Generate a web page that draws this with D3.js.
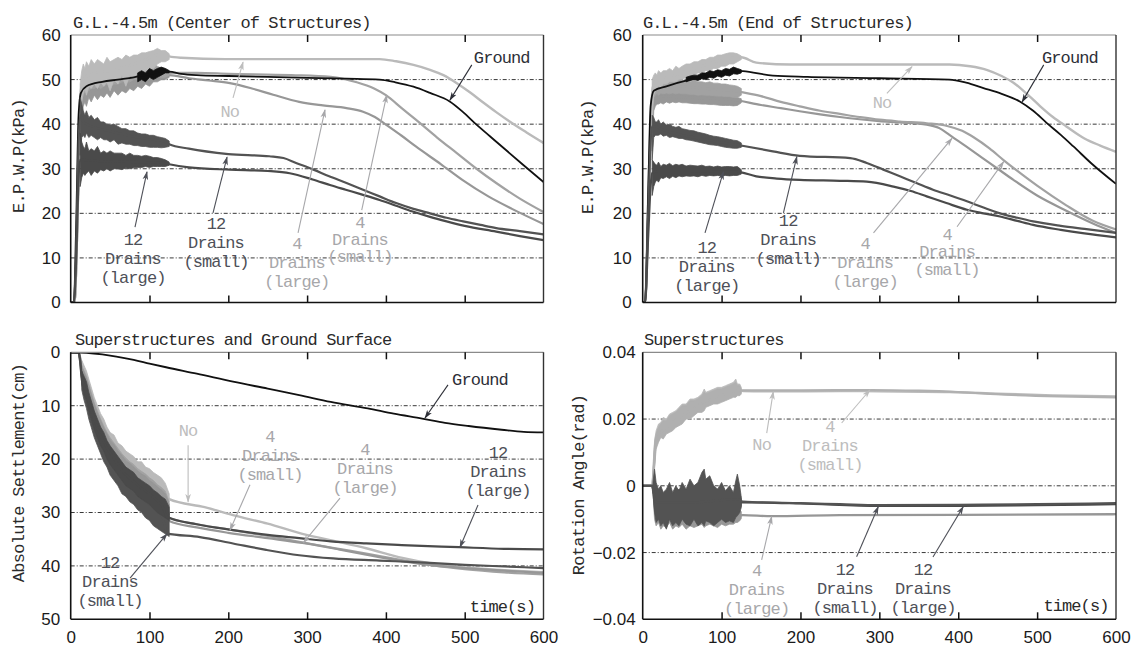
<!DOCTYPE html>
<html><head><meta charset="utf-8">
<script src="https://cdn.jsdelivr.net/npm/d3@7"></script>
<style>body{margin:0;background:#fff}svg{display:block}</style>
</head><body>
<svg id="chart" width="1137" height="651"></svg>
<script>
// ---------------- DATA ----------------
const TIME_TICKS = [0,100,200,300,400,500,600];
const EPWP_TICKS = [0,10,20,30,40,50,60];
const SETTLE_TICKS = [0,10,20,30,40,50];
const ROT_TICKS = [-0.04,-0.02,0,0.02,0.04];
const ROT_LABELS = ["\u22120.04","\u22120.02","0","0.02","0.04"];

// band (noisy shaking phase) time grids
const BAND_T_AB = [12,14,16,18,20,23,26,30,34,38,42,46,50,55,60,65,70,75,80,85,90,95,100,105,110,115,120,125];
const BAND_T_C  = [14,17,20,23,26,30,34,38,42,46,50,55,60,65,70,75,80,85,90,95,100,105,110,115,120,125];
const BAND_T_D  = [13,15,17,20,23,26,30,34,38,42,46,50,55,60,65,70,75,78,80,85,90,95,100,105,110,115,118,120,123,125];
const GROUND_BAND_T_A = [85,90,95,100,105,110,115,120,125];
const GROUND_BAND_T_B = [55,60,65,70,75,80,85,90,95,100,105,110,115,120,125];

// ---- Panel A: G.L.-4.5m (Center of Structures), EPWP kPa ----
const groundA = [[0,0],[4,0],[7,18],[10,42],[13,47],[20,48.5],[40,49.5],[60,50],[80,50.5],[100,51.2],[115,51.8],[125,51.8],[140,51.3],[160,51],[200,50.8],[250,50.6],[300,50.4],[350,50.2],[392,50],[412,49.4],[435,48.4],[456,47],[481,45.1],[498,42.7],[515,39.9],[532,37.3],[549,34.7],[574,30.9],[600,27]];
const noA = [[0,0],[5,0],[8,15],[11,38],[12,46],[16,50],[30,51.5],[50,52],[70,53],[90,54],[110,55.5],[120,55.5],[125,55.2],[140,54.9],[196,54.6],[300,54.6],[392,54.6],[413,54.1],[435,53.3],[456,52.2],[473,51],[490,49.2],[507,47.1],[524,44.8],[540,42.7],[557,40.6],[578,38.2],[600,35.8]];
const small4A = [[0,0],[5,0],[8,14],[11,36],[12,44],[16,48.5],[30,50],[60,50.5],[90,51],[120,51.3],[125,51.5],[160,51.5],[200,51.3],[280,51],[330,50.6],[363,49.4],[385,48],[400,46.5],[420,43.6],[438,41],[465,37],[490,33.5],[515,30],[540,26.8],[570,23.3],[600,20.3]];
const large4A = [[0,0],[5,0],[8,14],[11,35],[12,42],[16,46.5],[30,47.5],[60,48.5],[90,49.5],[120,50.5],[125,51],[150,50.3],[175,49.8],[202,49.2],[230,48],[257,46.6],[290,45],[320,44.2],[350,43.6],[371,42.8],[386,41.6],[400,39.9],[420,37.4],[438,35],[470,31],[497,27.5],[530,23.8],[560,21],[600,17.6]];
const small12A = [[0,0],[4,0],[7,12],[10,36],[12,42],[16,40.5],[20,40],[30,39.3],[40,38.8],[60,38],[80,37.2],[100,36.6],[120,36],[125,35.5],[150,34.5],[200,33.3],[252,32.8],[270,32.4],[286,31.3],[308,29.8],[328,28.3],[350,26.8],[371,25.3],[392,23.8],[413,22.3],[435,21],[456,20],[477,19],[498,18.2],[520,17.4],[540,16.7],[570,16],[600,15.3]];
const large12A = [[0,0],[4,0],[7,10],[10,28],[12,32],[16,32],[30,31.8],[60,31.6],[90,31.5],[120,31.2],[125,31],[150,30.3],[202,29.8],[250,29.5],[278,29],[307,27.6],[330,26.3],[349,25.3],[370,24.2],[392,23],[413,21.7],[434,20.4],[456,19.2],[477,18.2],[500,17.2],[540,15.9],[570,14.9],[600,14]];
const groundA_hi = [51.5,52,51.5,52.5,52,52.5,52.8,52.5,52];
const groundA_lo = [49.5,50,49.5,50.5,50,50.5,51,51.5,51.5];
const noA_hi = [49,52,53.5,52.5,54,53,54.5,53.5,54.5,54,53.5,55,54,54.5,55,54.5,55.5,55,55.5,55.5,56,56,56.3,56.5,57,56.5,56.5,55.8];
const noA_lo = [40,45,47,48,46.5,48.5,48,49,48,49.5,48.5,49.5,47.5,50,49,51,48.5,51,50.5,51.5,51,52,52.5,52.5,53.5,54,54,54.5];
const small4A_hi = [46,50,52,51,52.5,51.5,52.5,52,53,52,52.5,53,52,53,52.5,53,53.5,52.5,53,53.5,53,53.5,53,53.5,53,52.5,52.5,52];
const small4A_lo = [40,45,47,47,47.5,47.5,48,48,48.5,48,48.5,49,48.5,49,49,49.5,49.5,49.5,50,50,50,50.5,50,50.5,50.5,50.5,50.5,51];
const large4A_hi = [44,48,49,49,50,49.5,50,50,50.5,50,50,50.5,50,50.5,50.5,51,51,50.5,51,51,51,51.5,51,51.5,51.5,51.5,51.5,51.5];
const large4A_lo = [36,42,44,45,44,46,45,46.5,45.5,46.5,46,47,46,47.5,46.5,47.5,47,48,47.5,48.5,48,49,48.5,49.5,49.5,50,50,50.5];
const small12A_hi = [46,44.5,43,42,43,41.5,42,41,41.5,40.5,40.5,40,39.8,40,39.5,39,39,38.5,38.5,38,37.8,37.8,37.5,37.5,37.2,37,36.8,36.2];
const small12A_lo = [33,37,37.5,37,38,37,37.5,37,36.5,37,36.5,36.5,36,36.5,35.5,35.8,35.5,35.5,35.2,35.2,35,35,34.8,34.8,34.8,34.7,34.8,35];
const large12A_hi = [38,36,35,34.5,36,34,34.5,34,35,33.5,34,33.5,34,33.5,33.5,33.5,33,33.5,33,33,32.8,33,32.8,32.5,32.5,32.3,32,31.5];
const large12A_lo = [26,28,29,28.5,29,29.5,28.5,29.5,29,29.8,29.5,30,29.5,30,30,29.8,30.2,30,30.2,30.3,30.3,30.5,30.3,30.5,30.5,30.5,30.5,30.8];

// ---- Panel B: G.L.-4.5m (End of Structures), EPWP kPa ----
const groundB = [[0,0],[3,0],[7,25],[10,44],[14,47.5],[30,48.5],[60,50],[90,51],[115,52],[127,51.9],[165,50.9],[209,50.6],[300,50.3],[389,50],[410,49.3],[432,48.1],[455,46.8],[478,45.1],[495,43],[512,40.3],[530,37.6],[546,35],[570,31],[600,26.6]];
const noB = [[0,0],[3,0],[8,30],[11,44],[12,47],[14,49],[20,50],[30,50.5],[40,51],[50,51.5],[60,52.2],[80,53.3],[94,54.1],[110,54.7],[119,55],[125,55],[144,53.8],[187,53.4],[300,53.4],[389,53.4],[415,53],[436,52.2],[455,50.8],[470,49.3],[487,46.8],[504,44],[520,41.6],[537,39.5],[560,36.8],[580,35.2],[600,33.8]];
const small4B = [[0,0],[3,0],[8,28],[11,42],[12,45],[16,48.5],[30,48.7],[60,48.3],[90,47.8],[119,47.4],[125,47.2],[150,46.3],[175,45],[199,44],[225,43],[250,42.3],[275,41.6],[300,41],[326,40.6],[360,40.2],[386,39.6],[405,38.5],[420,37],[440,34.5],[457,32],[475,29.5],[500,26.2],[537,21.8],[570,18.4],[600,16.4]];
const large4B = [[0,0],[3,0],[8,26],[11,40],[12,43],[16,46],[30,46.2],[60,46],[90,45.7],[119,45.4],[125,45.2],[150,44.3],[175,43.6],[199,42.9],[225,42.2],[250,41.6],[275,41.1],[300,40.7],[326,40.4],[360,39.9],[375,39.2],[392,37.2],[410,35],[430,32.5],[450,30],[470,27.5],[500,24],[537,20.6],[570,17.8],[600,15.6]];
const small12B = [[0,0],[3,0],[7,20],[10,36],[12,39.5],[15,39.5],[25,38.8],[39,38],[60,37.2],[81,36.5],[100,35.9],[119,35.4],[125,35.2],[165,33.9],[199,32.9],[263,32.4],[284,31.3],[305,29.8],[326,28.3],[347,26.8],[368,25.3],[390,24],[411,22.7],[432,21.3],[453,20],[475,19],[495,18.2],[530,17.2],[560,16.5],[600,15.6]];
const large12B = [[0,0],[3,0],[7,15],[10,26],[12,29],[20,29.5],[60,29.5],[100,29.4],[119,29.4],[125,29.2],[144,28.3],[170,27.8],[199,27.5],[250,27.3],[284,27.1],[318,26],[340,25],[360,23.8],[385,22.3],[411,20.8],[432,20],[453,19.3],[475,18.3],[495,17.4],[530,16.3],[560,15.5],[600,14.6]];
const groundB_hi = [50.5,50.8,51,51,51.5,51.5,52,51.8,52.2,52,52.5,52.3,52.8,52.5,52.2];
const groundB_lo = [49.5,49.8,50,49.8,50.2,50,50.5,50.3,50.8,50.5,51,50.8,51.3,51.2,51.5];
const noB_hi = [50,51,51.5,51,52,51.5,52,52,52.5,52,53,52.5,53,53.5,53.5,54,54,54.5,54.5,55,55,55.5,55.5,55.8,56,56,55.8,55.3];
const noB_lo = [42,46.5,47.5,48,48.5,48,49,49,49.5,49.5,49.5,50,50,50.5,50.5,51,51.5,51.5,52,52,52.5,52.5,53,53,53.5,53.5,54,54.5];
const small4B_hi = [48,50,50.5,50,50.5,50,50.5,50,50.5,50,50,50,49.8,50,49.5,49.8,49.5,49.5,49.3,49.5,49.2,49.2,49,49,48.8,48.7,48.5,48];
const small4B_lo = [38,46,46.5,47,46.5,47,46.8,47,46.8,47,46.8,47,46.8,46.8,46.7,46.7,46.5,46.6,46.5,46.5,46.4,46.3,46.3,46.2,46.2,46,46,46.5];
const large4B_hi = [44,47.5,48,47.5,48,47.5,48,47.5,47.8,47.5,47.5,47.5,47.3,47.3,47.2,47.2,47,47,46.8,46.8,46.7,46.6,46.5,46.5,46.3,46.2,46,45.7];
const large4B_lo = [34,43,44,44.5,44.5,44.8,44.5,45,44.7,45,44.8,45,44.8,44.8,44.7,44.6,44.6,44.5,44.5,44.4,44.4,44.3,44.2,44.2,44.2,44.1,44.2,44.8];
const small12B_hi = [42,41.5,40.5,40.5,41,40,40.5,39.8,40,39.5,39.3,39.5,39,38.8,38.6,38.5,38.2,38,37.8,37.5,37.3,37.2,37,36.8,36.6,36.4,36.3,35.8];
const small12B_lo = [32,37,37.5,37.5,37.5,37.8,37.3,37.5,37,37.2,37,36.8,36.8,36.5,36.4,36.2,36,35.8,35.6,35.4,35.3,35.2,35,34.8,34.7,34.6,34.6,34.8];
const large12B_hi = [32,31.5,31,30.8,31.5,30.5,31,30.8,31.2,30.7,31,30.8,31,30.6,30.8,30.7,30.6,30.8,30.5,30.6,30.4,30.6,30.4,30.5,30.5,30.4,30.5,29.8];
const large12B_lo = [24,26,27,27.5,27,28,27.8,28.2,27.8,28.3,28,28.4,28.2,28.4,28.3,28.4,28.2,28.5,28.3,28.5,28.4,28.5,28.4,28.5,28.4,28.5,28.5,28.8];

// ---- Panel C: Superstructures and Ground Surface, settlement cm ----
const groundC = [[0,0],[20,0.1],[40,0.4],[58,0.8],[80,1.4],[100,2.1],[121,2.8],[160,4.0],[206,5.5],[250,6.8],[290,8.0],[330,9.3],[377,10.5],[410,11.5],[446,12.4],[475,13.2],[505,13.8],[547,14.5],[575,14.9],[600,15.0]];
const noC = [[0,0],[10,0],[12,1],[14,2.5],[17,3.5],[20,4.5],[26,7.5],[34,11],[42,13.8],[50,16],[60,18],[70,19.8],[80,21],[90,22.3],[100,23.3],[110,24.5],[120,25.7],[125,27.5],[170,29],[206,30.5],[250,32.1],[294,34],[340,35.5],[375,36.7],[421,38.5],[460,39.6],[500,40.3],[550,40.8],[600,41.2]];
const small4C = [[0,0],[10,0],[12,1.2],[14,3.5],[20,6],[26,9],[34,12.2],[42,15],[50,17.2],[60,19.2],[70,20.8],[80,22.2],[90,23.3],[100,24.5],[110,25.5],[120,26.8],[125,31],[160,32.2],[202,33.2],[250,34.4],[290,35.5],[340,36.8],[375,37.7],[420,38.9],[460,39.9],[500,40.6],[550,41.2],[600,41.6]];
const large4C = [[0,0],[10,0],[12,1.2],[14,3.5],[20,6.2],[26,9.3],[34,12.5],[42,15.3],[50,17.5],[60,19.5],[70,21],[80,22.5],[90,23.6],[100,24.8],[110,26],[120,27.2],[125,31.6],[160,32.8],[200,33.8],[250,34.8],[294,35.7],[340,36.9],[375,37.9],[420,39.1],[460,39.9],[500,40.4],[550,40.9],[600,41.3]];
const large12C = [[0,0],[10,0],[12,1.5],[14,4.5],[20,7.5],[26,10.8],[34,14.2],[42,16.8],[50,18.8],[60,21],[70,23],[80,24.2],[90,25.5],[100,26.5],[110,27.8],[117,29],[122,30.8],[160,32.2],[206,33.3],[250,34.2],[290,34.8],[330,35.4],[375,35.8],[420,36.1],[493,36.5],[550,36.8],[600,36.9]];
const small12C = [[0,0],[10,0],[12,1.8],[14,5],[20,8.5],[26,12],[34,15.5],[42,18.5],[50,20.5],[60,22.5],[70,24.5],[80,26],[90,27.3],[100,28.5],[110,29.8],[117,31],[122,33.9],[164,34.6],[206,35.8],[248,37],[290,38],[333,38.6],[392,39],[450,39.4],[500,39.8],[550,40.1],[600,40.4]];
const noC_hi = [1.5,2.5,3.5,5,6.5,8.5,10,11.5,12.5,14,15,15.5,17,17.5,18.5,19,19.5,20.5,20.5,21.5,21.8,22.5,23,23.5,24.5,26.5];
const noC_lo = [3.5,5,5.5,7.5,8.5,11,12,14,15,16.5,17,18.5,19.5,20.5,21,22,22.5,23,23.8,24,24.8,25.3,25.8,26.5,27,28];
const small4C_hi = [2.5,3.5,4.5,6,7.5,9.5,11,12.5,13.8,15,16,17,18,19,19.8,20.5,21,21.8,22.3,22.8,23.5,24,24.8,25.3,26,28];
const small4C_lo = [5,6.5,7.5,9,10.5,12.5,13.5,15.5,16.5,17.5,18.5,19.5,20.5,21.5,22.5,23,23.5,24.5,25,25.5,26,26.8,27.3,28,28.5,30];
const large4C_hi = [2.8,3.8,5,6.3,8,9.8,11.5,12.8,14.2,15.3,16.5,17.3,18.5,19.3,20.3,20.8,21.5,22.2,22.8,23.2,24,24.5,25.2,25.8,26.5,28.5];
const large4C_lo = [5.3,7,7.8,9.5,10.8,13,14,16,17,18,19,20,21,22,23,23.5,24,25,25.5,26,26.5,27.3,27.8,28.5,29,30.5];
const large12C_hi = [3.5,4.5,5.5,7.5,9,11,12.5,14,15,16.5,17.5,18.5,19.5,20.5,21.5,22,22.5,23.5,24,24.5,25,25.8,26.3,27,27.5,29];
const large12C_lo = [6,8,9,11,12.5,14.5,16,17.5,18.5,20,21,22,23,24,25,25.5,26,27,27.5,28,28.5,29.3,30,30.5,31,31.5];
const small12C_hi = [4,5,6.5,8.5,10,12,13.5,15,16,17.5,18.5,19.5,20.5,21.5,22.5,23,23.5,24.5,25,25.5,26,27,27.5,28,28.5,30];
const small12C_lo = [7,9,10.5,12.5,14,16,17.5,19,20.5,21.5,23,24,25,26.5,27,28,28.5,29.5,30,31,31.5,32.5,33,33.5,34,34.5];

// ---- Panel D: Superstructures, rotation angle rad ----
const noD = [[0,0],[12,0],[13,0.002],[15,0.010],[17,0.0147],[30,0.018],[56,0.0227],[77,0.0257],[98,0.0272],[119,0.029],[127,0.0284],[165,0.0283],[250,0.0284],[300,0.0283],[389,0.0281],[450,0.0276],[520,0.0271],[600,0.0268]];
const small4D = [[0,0],[12,0],[14,0.005],[17,0.014],[30,0.0175],[56,0.022],[77,0.025],[98,0.027],[119,0.0285],[127,0.0286],[200,0.0286],[290,0.0287],[350,0.0285],[400,0.0281],[460,0.0273],[600,0.0265]];
const large4D = [[0,0],[12,0],[14,-0.003],[17,-0.008],[40,-0.009],[80,-0.0092],[120,-0.009],[127,-0.0088],[163,-0.0091],[250,-0.0088],[400,-0.0087],[600,-0.0085]];
const small12D = [[0,0],[12,0],[14,-0.002],[17,-0.005],[60,-0.005],[120,-0.004],[127,-0.0047],[200,-0.0052],[250,-0.0055],[299,-0.0058],[400,-0.0057],[500,-0.0055],[600,-0.0052]];
const large12D = [[0,0],[12,0],[14,-0.002],[17,-0.005],[60,-0.0055],[120,-0.005],[127,-0.005],[200,-0.0053],[300,-0.006],[406,-0.006],[500,-0.0058],[600,-0.0055]];
const noD_hi = [0.004,0.0135,0.0165,0.0185,0.019,0.0205,0.02,0.0215,0.022,0.0225,0.0235,0.0245,0.0245,0.026,0.026,0.0265,0.0275,0.029,0.028,0.0285,0.029,0.0295,0.0295,0.030,0.0305,0.031,0.032,0.0305,0.0305,0.0295];
const noD_lo = [0.0,0.006,0.012,0.0135,0.015,0.0145,0.016,0.0165,0.017,0.018,0.0185,0.019,0.0205,0.0205,0.0215,0.0225,0.0225,0.023,0.024,0.0245,0.025,0.025,0.0255,0.026,0.0265,0.027,0.027,0.0275,0.0275,0.028];
const small4D_hi = [0.003,0.012,0.0155,0.0175,0.0185,0.0195,0.0195,0.021,0.0215,0.022,0.023,0.024,0.024,0.0255,0.0255,0.026,0.027,0.028,0.0275,0.028,0.0285,0.029,0.029,0.0295,0.030,0.0305,0.031,0.030,0.030,0.029];
const small4D_lo = [0.0,0.005,0.011,0.013,0.0145,0.014,0.0155,0.016,0.0165,0.0175,0.018,0.0185,0.02,0.02,0.021,0.022,0.022,0.0225,0.0235,0.024,0.0245,0.0245,0.025,0.0255,0.026,0.0265,0.0265,0.027,0.027,0.0275];
const large4D_hi = [0.0,-0.004,-0.005,-0.006,-0.005,-0.006,-0.0055,-0.006,-0.005,-0.0065,-0.006,-0.0055,-0.0065,-0.006,-0.0065,-0.006,-0.0065,-0.006,-0.0065,-0.006,-0.0065,-0.0065,-0.006,-0.0065,-0.007,-0.0065,-0.007,-0.0068,-0.0072,-0.0078];
const large4D_lo = [-0.002,-0.01,-0.012,-0.011,-0.013,-0.012,-0.0125,-0.011,-0.013,-0.012,-0.0125,-0.0115,-0.013,-0.012,-0.0125,-0.012,-0.0115,-0.0125,-0.012,-0.0115,-0.012,-0.0125,-0.0115,-0.012,-0.0115,-0.0115,-0.011,-0.011,-0.0105,-0.0098];
const small12D_hi = [0.001,0.005,0.001,-0.001,0.0,-0.002,-0.001,0.001,-0.002,0.0,-0.0015,0.001,-0.001,0.002,0.0,0.001,0.004,0.005,0.002,0.003,0.0,-0.001,0.001,-0.0015,0.0,-0.002,0.0015,0.0035,0.0,-0.0035];
const small12D_lo = [-0.002,-0.008,-0.011,-0.01,-0.012,-0.011,-0.013,-0.01,-0.012,-0.011,-0.012,-0.01,-0.0115,-0.012,-0.01,-0.012,-0.011,-0.012,-0.0105,-0.011,-0.012,-0.011,-0.01,-0.011,-0.0105,-0.011,-0.0095,-0.009,-0.008,-0.0065];
const large12D_hi = [0.0,0.002,-0.001,-0.002,-0.001,-0.003,-0.002,-0.001,-0.003,-0.002,-0.001,-0.002,-0.003,0.0,-0.002,-0.001,0.001,0.002,-0.001,0.0,-0.002,-0.001,-0.002,-0.003,-0.002,-0.003,-0.001,0.001,-0.002,-0.004];
const large12D_lo = [-0.001,-0.007,-0.009,-0.008,-0.01,-0.009,-0.01,-0.009,-0.0105,-0.009,-0.0095,-0.009,-0.01,-0.009,-0.0095,-0.01,-0.009,-0.0095,-0.009,-0.0095,-0.01,-0.009,-0.0095,-0.009,-0.0085,-0.009,-0.008,-0.0075,-0.007,-0.006];

// annotation texts
const L_GROUND = ["Ground"], L_NO = ["No"];
const L_12L = ["12","Drains","(large)"], L_12S = ["12","Drains","(small)"];
const L_4L = ["4","Drains","(large)"], L_4S = ["4","Drains","(small)"];

// ---------------- STYLE ----------------
const C = {ground:"#111111", no:"#bababa", s4:"#a2a2a2", l4:"#979797", s12:"#535353", l12:"#4a4a4a"};
const TXT = {ground:"#2d2f37", no:"#bdbdbd", d4:"#a7a7aa", d12:"#4e5058"};
const MONO = "'Liberation Mono','DejaVu Sans Mono',monospace";
const SANS = "'Liberation Sans',Arial,sans-serif";

const svg = d3.select("#chart");
const defs = svg.append("defs");
const markerFor = {};
Object.values(TXT).forEach((col,i)=>{
  const id = "arr"+i;
  defs.append("marker").attr("id",id).attr("viewBox","0 -4 10 8").attr("refX",9).attr("refY",0)
    .attr("markerWidth",9).attr("markerHeight",7).attr("markerUnits","userSpaceOnUse").attr("orient","auto")
    .append("path").attr("d","M0,-3.2L10,0L0,3.2L2.5,0Z").attr("fill",col);
  markerFor[col] = id;
});

function zipBand(T, hi, lo){ return T.map((t,i)=>({t, hi:hi[i], lo:lo[i]})); }

const panels = [
 { id:"A", x0:70.7, x1:543.5, yTop:35, yBot:302.5, dom:[0,60], yTicks:EPWP_TICKS, grid:[10,20,30,40,50], pad:10,
   title:"G.L.-4.5m (Center of Structures)", tx:73, ty:28, ylab:"E.P.W.P(kPa)", lx:19, ly:156, xLabels:false,
   series:[
     {d:large4A, c:C.l4, w:2.2, band:zipBand(BAND_T_AB,large4A_hi,large4A_lo)},
     {d:small4A, c:C.s4, w:2.2, band:zipBand(BAND_T_AB,small4A_hi,small4A_lo)},
     {d:noA, c:C.no, w:2.4, band:zipBand(BAND_T_AB,noA_hi,noA_lo)},
     {d:groundA, c:C.ground, w:1.8, band:zipBand(GROUND_BAND_T_A,groundA_hi,groundA_lo)},
     {d:small12A, c:C.s12, w:2.2, band:zipBand(BAND_T_AB,small12A_hi,small12A_lo)},
     {d:large12A, c:C.l12, w:2.2, band:zipBand(BAND_T_AB,large12A_hi,large12A_lo)} ],
   ann:[
     {L:L_GROUND, t:547, v:54.8, c:TXT.ground, a:[[509,53.3],[481.3,45.4]]},
     {L:L_NO, t:202, v:42.7, c:TXT.no, a:[[206,45.9],[218.7,53.9]]},
     {L:L_12L, t:79, v:14.0, c:TXT.d12, a:[[81.6,16.9],[96.8,29.3]]},
     {L:L_12S, t:184.4, v:17.4, c:TXT.d12, a:[[180.6,20.1],[198.4,32.6]]},
     {L:L_4L, t:287, v:12.9, c:TXT.d4, a:[[288.5,15.6],[322.7,43.2]]},
     {L:L_4S, t:367, v:17.8, c:TXT.d4, sp:17, a:[[369.3,20.7],[401,46.5]]} ] },
 { id:"B", x0:642.7, x1:1116, yTop:35, yBot:302.5, dom:[0,60], yTicks:EPWP_TICKS, grid:[10,20,30,40,50], pad:11,
   title:"G.L.-4.5m (End of Structures)", tx:643, ty:28, ylab:"E.P.W.P(kPa)", lx:588.5, ly:157, xLabels:false,
   series:[
     {d:large4B, c:C.l4, w:2.2, band:zipBand(BAND_T_AB,large4B_hi,large4B_lo)},
     {d:small4B, c:C.s4, w:2.2, band:zipBand(BAND_T_AB,small4B_hi,small4B_lo)},
     {d:noB, c:C.no, w:2.4, band:zipBand(BAND_T_AB,noB_hi,noB_lo)},
     {d:groundB, c:C.ground, w:1.8, band:zipBand(GROUND_BAND_T_B,groundB_hi,groundB_lo)},
     {d:small12B, c:C.s12, w:2.2, band:zipBand(BAND_T_AB,small12B_hi,small12B_lo)},
     {d:large12B, c:C.l12, w:2.2, band:zipBand(BAND_T_AB,large12B_hi,large12B_lo)} ],
   ann:[
     {L:L_GROUND, t:541.6, v:54.8, c:TXT.ground, a:[[508.4,53.3],[481,45]]},
     {L:L_NO, t:303.3, v:44.7, c:TXT.no, a:[[309.6,46.9],[341.4,52.9]]},
     {L:L_12L, t:81.2, v:12.2, c:TXT.d12, a:[[79,15.6],[102.3,29.3]]},
     {L:L_12S, t:184.4, v:18.1, c:TXT.d12, a:[[178.4,20.1],[195.4,32.7]]},
     {L:L_4L, t:282, v:12.9, c:TXT.d4, a:[[292.6,15.6],[392,36.8]]},
     {L:L_4S, t:385.8, v:15.1, c:TXT.d4, sp:17.5, a:[[398.5,17],[457.6,31.6]]} ] },
 { id:"C", x0:70.7, x1:543.5, yTop:352.3, yBot:619.3, dom:[50,0], yTicks:SETTLE_TICKS, grid:[10,20,30,40], pad:10.5,
   title:"Superstructures and Ground Surface", tx:75, ty:345, ylab:"Absolute Settlement(cm)", lx:19, ly:473, xLabels:true,
   series:[
     {d:noC, c:C.no, w:2.4, band:zipBand(BAND_T_C,noC_hi,noC_lo)},
     {d:small4C, c:C.s4, w:2.2, band:zipBand(BAND_T_C,small4C_hi,small4C_lo)},
     {d:large4C, c:C.l4, w:2.2, band:zipBand(BAND_T_C,large4C_hi,large4C_lo)},
     {d:small12C, c:C.s12, w:2.2, band:zipBand(BAND_T_C,small12C_hi,small12C_lo)},
     {d:large12C, c:C.l12, w:2.2, band:zipBand(BAND_T_C,large12C_hi,large12C_lo)},
     {d:groundC, c:C.ground, w:1.8} ],
   ann:[
     {L:L_GROUND, t:519.4, v:5.2, c:TXT.ground, a:[[478.8,6.1],[449.6,12.3]]},
     {L:L_12L, t:542.3, v:18.9, c:TXT.d12, a:[[516.9,28.6],[494,36.5]]},
     {L:L_NO, t:149, v:14.9, c:TXT.no, a:[[149,17.4],[149,28.0]]},
     {L:L_4S, t:252.9, v:16.0, c:TXT.d4, a:[[227.5,24.8],[202.2,33.3]]},
     {L:L_4L, t:373.5, v:18.3, c:TXT.d4, a:[[341.8,27.3],[295.2,35.7]]},
     {L:L_12S, t:49.9, v:39.6, c:TXT.d12, a:[[75.3,42.3],[122.2,34.0]]} ],
   time:{t:589.2, v:47.7} },
 { id:"D", x0:642.7, x1:1116, yTop:352.3, yBot:619.3, dom:[-0.04,0.04], yTicks:ROT_TICKS, yFmt:ROT_LABELS, grid:[-0.02,0,0.02], pad:7,
   title:"Superstructures", tx:644, ty:345, ylab:"Rotation Angle(rad)", lx:579, ly:485, xLabels:true,
   series:[
     {d:noD, c:C.no, w:2.4, band:zipBand(BAND_T_D,noD_hi,noD_lo)},
     {d:small4D, c:"#b0b0b0", w:2.2, band:zipBand(BAND_T_D,small4D_hi,small4D_lo)},
     {d:large4D, c:C.l4, w:2.4, band:zipBand(BAND_T_D,large4D_hi,large4D_lo)},
     {d:large12D, c:C.l12, w:2.2, band:zipBand(BAND_T_D,large12D_hi,large12D_lo)},
     {d:small12D, c:C.s12, w:2.2, band:zipBand(BAND_T_D,small12D_hi,small12D_lo)} ],
   ann:[
     {L:L_NO, t:150.8, v:0.01222, c:TXT.no, a:[[157.2,0.0158],[165.5,0.0282]]},
     {L:L_4S, t:237.4, v:0.01732, c:TXT.no, a:[[252.2,0.01882],[288,0.0287]]},
     {L:L_4L, t:144.5, v:-0.02574, c:TXT.d4, a:[[150.8,-0.0222],[163.5,-0.00926]]},
     {L:L_12S, t:256.4, v:-0.02523, c:TXT.d12, a:[[271.2,-0.02124],[298.6,-0.00626]]},
     {L:L_12L, t:355.3, v:-0.02523, c:TXT.d12, a:[[368,-0.02133],[406.3,-0.00626]]} ],
   time:{t:590.5, v:-0.0363} }
];

panels.forEach(p=>{
  const x = d3.scaleLinear().domain([0,600]).range([p.x0,p.x1]);
  const y = d3.scaleLinear().domain(p.dom).range([p.yBot,p.yTop]);
  const g = svg.append("g");
  const clipId = "clip"+p.id;
  defs.append("clipPath").attr("id",clipId).append("rect")
    .attr("x",p.x0).attr("y",p.yTop).attr("width",p.x1-p.x0).attr("height",p.yBot-p.yTop);

  // grid
  g.append("g").selectAll("line").data(p.grid).join("line")
    .attr("x1",p.x0).attr("x2",p.x1).attr("y1",d=>y(d)).attr("y2",d=>y(d))
    .attr("stroke","#222").attr("stroke-width",0.9).attr("stroke-dasharray","4,2,1,2");

  // data
  const plot = g.append("g").attr("clip-path",`url(#${clipId})`);
  const line = d3.line().x(d=>x(d[0])).y(d=>y(d[1])).curve(d3.curveMonotoneX);
  const area = d3.area().x(d=>x(d.t)).y0(d=>y(d.lo)).y1(d=>y(d.hi)).curve(d3.curveLinear);
  p.series.forEach(s=>{
    if(s.band) plot.append("path").attr("d",area(s.band)).attr("fill",s.c).attr("stroke",s.c).attr("stroke-width",0.8);
    plot.append("path").attr("d",line(s.d)).attr("fill","none").attr("stroke",s.c)
      .attr("stroke-width",s.w).attr("stroke-linejoin","round");
  });

  // frame
  g.append("line").attr("x1",p.x0).attr("x2",p.x1).attr("y1",p.yTop).attr("y2",p.yTop).attr("stroke","#8a8a8a").attr("stroke-width",1.2);
  g.append("line").attr("x1",p.x1).attr("x2",p.x1).attr("y1",p.yTop).attr("y2",p.yBot).attr("stroke","#333").attr("stroke-width",1.4);
  g.append("line").attr("x1",p.x0).attr("x2",p.x0).attr("y1",p.yTop).attr("y2",p.yBot).attr("stroke","#111").attr("stroke-width",1.6);
  g.append("line").attr("x1",p.x0).attr("x2",p.x1).attr("y1",p.yBot).attr("y2",p.yBot).attr("stroke","#111").attr("stroke-width",1.6);

  // inner ticks on top & bottom
  const inner = TIME_TICKS.slice(1,-1);
  const axT = g.append("g").attr("transform",`translate(0,${p.yTop})`)
    .call(d3.axisTop(x).tickValues(inner).tickSize(-7).tickFormat(""));
  const axB = g.append("g").attr("transform",`translate(0,${p.yBot})`)
    .call(d3.axisBottom(x).tickValues(inner).tickSize(-7).tickFormat(""));
  [axT,axB].forEach(a=>{a.select(".domain").remove(); a.selectAll("line").attr("stroke","#111").attr("stroke-width",1.5);});

  // x labels
  if(p.xLabels){
    const ax = g.append("g").attr("transform",`translate(0,${p.yBot})`)
      .call(d3.axisBottom(x).tickValues(TIME_TICKS).tickSize(0).tickPadding(12).tickFormat(d3.format("d")));
    ax.select(".domain").remove();
    ax.selectAll("text").attr("font-family",SANS).attr("font-size",17).attr("fill","#1a1a1a");
  }
  // y labels
  const ay = g.append("g").attr("transform",`translate(${p.x0},0)`)
    .call(d3.axisLeft(y).tickValues(p.yTicks).tickSize(0).tickPadding(p.pad)
      .tickFormat((d,i)=> p.yFmt ? p.yFmt[i] : d3.format("d")(d)));
  ay.select(".domain").remove();
  ay.selectAll("text").attr("font-family",SANS).attr("font-size",17).attr("fill","#1a1a1a");

  // title
  g.append("text").attr("x",p.tx).attr("y",p.ty).text(p.title)
    .attr("font-family",MONO).attr("font-size",17).attr("letter-spacing","-0.9px").attr("fill","#2a2a2a");
  // y label
  g.append("text").attr("transform",`translate(${p.lx},${p.ly}) rotate(-90)`).text(p.ylab)
    .attr("text-anchor","middle").attr("dominant-baseline","central")
    .attr("font-family",MONO).attr("font-size",17).attr("letter-spacing","-0.7px").attr("fill","#2a2a2a");
  // time label
  if(p.time){
    g.append("text").attr("x",x(p.time.t)).attr("y",y(p.time.v)).text("time(s)")
      .attr("text-anchor","end").attr("dominant-baseline","central")
      .attr("font-family",MONO).attr("font-size",17).attr("letter-spacing","-0.9px").attr("fill","#2a2a2a");
  }
  // annotations
  p.ann.forEach(a=>{
    const sp = a.sp || 19;
    a.L.forEach((s,i)=>{
      g.append("text").attr("x",x(a.t)).attr("y",y(a.v)+i*sp).text(s)
        .attr("text-anchor","middle").attr("dominant-baseline","central")
        .attr("font-family",MONO).attr("font-size",17).attr("letter-spacing","-0.9px").attr("fill",a.c);
    });
    g.append("line").attr("x1",x(a.a[0][0])).attr("y1",y(a.a[0][1]))
      .attr("x2",x(a.a[1][0])).attr("y2",y(a.a[1][1]))
      .attr("stroke",a.c).attr("stroke-width",1.1).attr("marker-end",`url(#${markerFor[a.c]})`);
  });
});
</script>
</body></html>
